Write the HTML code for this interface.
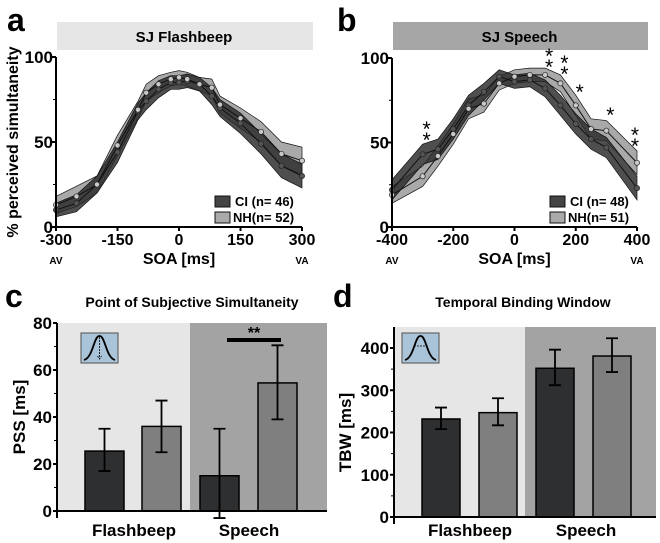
<!DOCTYPE html>
<html><head><meta charset="utf-8">
<style>
html,body{margin:0;padding:0;background:#fff;}
svg{display:block;font-family:"Liberation Sans",Arial,sans-serif;font-weight:bold;}
</style></head>
<body>
<svg id="fig" width="660" height="543" viewBox="0 0 660 543" xmlns="http://www.w3.org/2000/svg">
<text x="7" y="31" font-size="32">a</text>
<text x="337" y="31" font-size="32">b</text>
<text x="5" y="307" font-size="32">c</text>
<text x="333" y="307" font-size="32">d</text>
</svg>
<script>
// ---- Panel a data (SJ Flashbeep)
const soaA = [-300,-250,-200,-150,-100,-80,-50,-20,0,20,50,80,100,150,200,250,300];
const ciA  = [10,14,25,44,68,74,81,85,85,86,84,77,70,61,49,36,30];
const nhA  = [13,18,25,48,69,79,84,87,88,87,84,82,72,64,56,43,39];
const ciErrA = [4,5,5,6,5,5,5,4,4,4,4,5,5,6,6,7,7];
const nhErrA = [5,6,5,6,5,5,5,4,4,4,4,5,5,6,6,7,8];
const ticksA = [-300,-150,0,150,300];
// ---- Panel b data (SJ Speech)
const soaB = [-400,-300,-250,-200,-150,-100,-50,0,50,100,150,200,250,300,400];
const ciB  = [22,43,46,58,72,80,89,86,87,82,72,61,52,47,23];
const nhB  = [19,30,42,55,70,73,85,89,90,90,85,72,58,57,38];
const ciErrB = [6,6,6,6,6,5,4,4,4,5,6,6,6,6,7];
const nhErrB = [5,6,6,6,6,5,4,4,4,4,5,6,6,6,7];
const ticksB = [-400,-200,0,200,400];
const starsB = [[-300,2],[100,2],[150,2],[200,1],[300,1],[400,2]];
const yTicksCurve = [0,50,100];
// ---- Panel c data (PSS)
const groups = ["Flashbeep","Speech"];
const pssCI = [25.5,15]; const pssCIlo=[17,-3]; const pssCIhi=[35,35];
const pssNH = [36,54.5]; const pssNHlo=[25,39]; const pssNHhi=[47,70.5];
const pssTicks = [0,20,40,60,80];
// ---- Panel d data (TBW)
const tbwCI = [232,352]; const tbwCIlo=[208,312]; const tbwCIhi=[259,396];
const tbwNH = [247,381]; const tbwNHlo=[217,343]; const tbwNHhi=[281,423];
const tbwTicks = [0,100,200,300,400];

const NS="http://www.w3.org/2000/svg";
const svg=document.getElementById('fig');
function el(tag,attrs,txt){const e=document.createElementNS(NS,tag);for(const k in attrs)e.setAttribute(k,attrs[k]);if(txt!==undefined)e.textContent=txt;svg.appendChild(e);return e;}

function curvePanel(o){
  const xs=v=>o.x0+(v-o.xmin)/(o.xmax-o.xmin)*(o.x1-o.x0);
  const ys=v=>o.y0-(v/100)*(o.y0-o.y1);
  let t=el('rect',{x:o.x0+1,y:22,width:o.x1-o.x0+10,height:28,fill:o.barFill});
  
  
  t=el('text',{x:(o.x0+o.x1+10)/2,y:42,'font-size':15,'text-anchor':'middle'},o.title);
  
  
  function band(vals,err,fill,name){
    let top=o.soa.map((s,i)=>xs(s)+','+ys(vals[i]+err[i]));
    let bot=o.soa.map((s,i)=>xs(s)+','+ys(vals[i]-err[i])).reverse();
    const p=el('polygon',{points:top.concat(bot).join(' '),fill:fill,stroke:'#111','stroke-width':0.7});
    
    
  }
  band(o.nh,o.nhErr,'#a9a9a9',o.id+'-nh-band');
  band(o.ci,o.ciErr,'rgba(40,40,40,0.82)',o.id+'-ci-band');
  function line(vals,name){
    const l=el('polyline',{points:o.soa.map((s,i)=>xs(s)+','+ys(vals[i])).join(' '),fill:'none',stroke:'#111','stroke-width':1});
    
    
  }
  line(o.nh,o.id+'-nh-line');line(o.ci,o.id+'-ci-line');
  function dots(vals,fill,name){
    o.soa.forEach((s,i)=>{
      const c=el('circle',{cx:xs(s),cy:ys(vals[i]),r:2.6,fill:fill,stroke:'#222','stroke-width':0.7});
      
      
    });
  }
  dots(o.ci,'#555',o.id+'-ci-point');dots(o.nh,'#c8c8c8',o.id+'-nh-point');
  let a=el('line',{x1:o.x0,y1:o.y1,x2:o.x0,y2:o.y0,stroke:'#000','stroke-width':2});
  
  
  a=el('line',{x1:o.x0,y1:o.y0,x2:o.x1,y2:o.y0,stroke:'#000','stroke-width':2});
  
  
  yTicksCurve.forEach(v=>{
    const tk=el('line',{x1:o.x0-4,y1:ys(v),x2:o.x0,y2:ys(v),stroke:'#000','stroke-width':2});
    
    
    const tl=el('text',{x:o.x0-3,y:ys(v)+6,'font-size':17,'text-anchor':'end'},v);
    
    
  });
  [25,75].forEach(v=>{const m=el('line',{x1:o.x0-3,y1:ys(v),x2:o.x0,y2:ys(v),stroke:'#000','stroke-width':1});
    
    });
  o.ticks.forEach(v=>{
    const tk=el('line',{x1:xs(v),y1:o.y0,x2:xs(v),y2:o.y0+4,stroke:'#000','stroke-width':2});
    
    
    const tl=el('text',{x:xs(v),y:o.y0+18,'font-size':16,'text-anchor':'middle'},v);
    
    
  });
  let tx=el('text',{x:(o.x0+o.x1)/2,y:264,'font-size':16,'text-anchor':'middle'},'SOA [ms]');
  
  
  tx=el('text',{x:o.x0,y:264,'font-size':10,'text-anchor':'middle'},'AV');
  
  
  tx=el('text',{x:o.x1,y:264,'font-size':10,'text-anchor':'middle'},'VA');
  
  
  const lx=o.legX;
  let s=el('rect',{x:lx,y:196,width:15,height:11,fill:'#444',stroke:'#111'});
  
  
  s=el('rect',{x:lx,y:212,width:15,height:11,fill:'#aaa',stroke:'#111'});
  
  
  s=el('text',{x:lx+20,y:206,'font-size':13},o.leg1);
  
  
  s=el('text',{x:lx+18,y:222,'font-size':13},o.leg2);
  
  
  return {xs,ys};
}
const pa=curvePanel({id:'panel-a',x0:56,x1:302,y0:227,y1:57,xmin:-300,xmax:300,soa:soaA,ci:ciA,nh:nhA,ciErr:ciErrA,nhErr:nhErrA,ticks:ticksA,title:'SJ Flashbeep',barFill:'#e6e6e6',legX:215,leg1:'CI (n= 46)',leg2:'NH(n= 52)'});
const pb=curvePanel({id:'panel-b',x0:392,x1:637,y0:227,y1:58,xmin:-400,xmax:400,soa:soaB,ci:ciB,nh:nhB,ciErr:ciErrB,nhErr:nhErrB,ticks:ticksB,title:'SJ Speech',barFill:'#a6a6a6',legX:550,leg1:'CI (n= 48)',leg2:'NH(n= 51)'});
starsB.forEach(([s,n])=>{
  const ybase={'-300':137,'100':64,'150':71,'200':89,'300':112,'400':143}[s];
  for(let k=0;k<n;k++){
    const st=el('text',{x:pb.xs(s)+(s===400?-2:4),y:ybase-k*11+10,'font-size':21,'font-weight':'normal','text-anchor':'middle'},'*');
    
    
  }
});
let yl=el('text',{x:0,y:0,'font-size':16,'text-anchor':'middle',transform:'translate(18,142) rotate(-90)'},'% perceived simultaneity');



function barPanel(o){
  const ys=v=>o.y0-(v/o.ymax)*(o.y0-o.ytop);
  let r=el('rect',{x:o.x0,y:o.bgTop,width:o.split-o.x0,height:o.y0-o.bgTop,fill:'#e6e6e6'});
  
  
  r=el('rect',{x:o.split,y:o.bgTop,width:o.x1-o.split,height:o.y0-o.bgTop,fill:'#a3a3a3'});
  
  
  let t=el('text',{x:o.titleX,y:307,'font-size':14,'text-anchor':'middle'},o.title);
  
  
  groups.forEach((g,gi)=>{
    [[o.ci,o.cilo,o.cihi,'#2e2f31','ci'],[o.nh,o.nhlo,o.nhhi,'#7f7f7f','nh']].forEach((d,si)=>{
      const bx=o.barX[gi*2+si];
      const b=el('rect',{x:bx,y:ys(d[0][gi]),width:o.bw,height:o.y0-ys(d[0][gi]),fill:d[3],stroke:'#000','stroke-width':1.5});
      
      
      const cx=bx+o.bw/2;
      const e=el('path',{d:`M${cx},${ys(d[1][gi])}V${ys(d[2][gi])}M${cx-6},${ys(d[1][gi])}H${cx+6}M${cx-6},${ys(d[2][gi])}H${cx+6}`,stroke:'#000','stroke-width':1.8,fill:'none'});
      
      
    });
    const gl=el('text',{x:o.groupX[gi],y:536,'font-size':17,'text-anchor':'middle'},g);
    
    
  });
  let a=el('line',{x1:o.x0,y1:o.axTop,x2:o.x0,y2:o.y0+7,stroke:'#000','stroke-width':2});
  
  
  a=el('line',{x1:o.x0,y1:o.y0,x2:o.x1,y2:o.y0,stroke:'#000','stroke-width':2});
  
  
  o.ticks.forEach(v=>{
    const tk=el('line',{x1:o.x0-4,y1:ys(v),x2:o.x0,y2:ys(v),stroke:'#000','stroke-width':2});
    
    
    const tl=el('text',{x:o.x0-5,y:ys(v)+6,'font-size':17,'text-anchor':'end'},v);
    
    
  });
  o.minor.forEach(v=>{const m=el('line',{x1:o.x0-3,y1:ys(v),x2:o.x0,y2:ys(v),stroke:'#000','stroke-width':1});
    
    });
  let yt=el('text',{x:0,y:0,'font-size':17,'text-anchor':'middle',transform:`translate(${o.ylabX},${(o.y0+o.ytop)/2}) rotate(-90)`},o.ylabel);
  
  
  const ic=el('rect',{x:o.iconX,y:333,width:37,height:30,fill:'#a9c4d8',stroke:'#666','stroke-width':1.2});
  
  
  const ix=o.iconX;
  const cv=el('path',{d:`M${ix+3},${360}C${ix+12},${358} ${ix+13},${335} ${ix+18.5},${336}C${ix+24},${335} ${ix+25},${358} ${ix+34},${360}`,fill:'none',stroke:'#000','stroke-width':1.8});
  
  
  const ar=el('path',{d:o.iconArrow(ix),fill:'none',stroke:'#000','stroke-width':0.8,'stroke-dasharray':'2,1'});
  
  
  return ys;
}
barPanel({id:'panel-c',x0:57,x1:327,split:190,y0:511,ytop:323,ymax:80,bgTop:323,axTop:323,bw:39,
  barX:[85,142,200,258],groupX:[134,249],ci:pssCI,cilo:pssCIlo,cihi:pssCIhi,nh:pssNH,nhlo:pssNHlo,nhhi:pssNHhi,
  ticks:pssTicks,minor:[10,30,50,70],title:'Point of Subjective Simultaneity',titleX:192,ylabel:'PSS [ms]',ylabX:25,iconX:81,
  iconArrow:ix=>`M${ix+18.5},337V359M${ix+16.5},356L${ix+18.5},359L${ix+20.5},356`});
let sig=el('line',{x1:227,y1:340,x2:281,y2:340,stroke:'#000','stroke-width':4});


sig=el('text',{x:254,y:338,'font-size':16,'text-anchor':'middle'},'**');


barPanel({id:'panel-d',x0:394,x1:656,split:525,y0:517,ytop:348,ymax:400,bgTop:327,axTop:327,bw:38,
  barX:[422,479,536,593],groupX:[470,586],ci:tbwCI,cilo:tbwCIlo,cihi:tbwCIhi,nh:tbwNH,nhlo:tbwNHlo,nhhi:tbwNHhi,
  ticks:tbwTicks,minor:[50,150,250,350],title:'Temporal Binding Window',titleX:523,ylabel:'TBW [ms]',ylabX:351,iconX:402,
  iconArrow:ix=>`M${ix+12},346H${ix+25}`});
</script>
</body></html>
